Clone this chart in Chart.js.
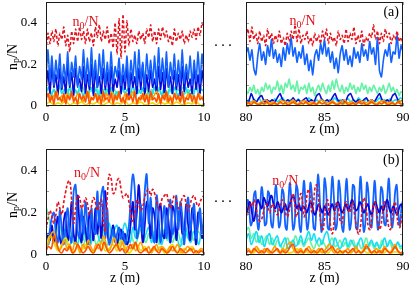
<!DOCTYPE html>
<html>
<head>
<meta charset="utf-8">
<script src="https://cdn.jsdelivr.net/npm/chart.js@4"></script>
<style>
  body { margin: 0; background: #fff; width: 416px; height: 292px; position: relative; overflow: hidden; }
  canvas { position: absolute; }
  .dots { position: absolute; font: 15px "Liberation Serif", serif; letter-spacing: 2px; transform: translate(-50%, -50%); color: #000; }
</style>
</head>
<body>
<canvas id="tl" width="210" height="140" style="left:0;top:0"></canvas>
<canvas id="tr" width="206" height="140" style="left:210px;top:0"></canvas>
<canvas id="bl" width="210" height="152" style="left:0;top:140px"></canvas>
<canvas id="br" width="206" height="152" style="left:210px;top:140px"></canvas>
<div class="dots" style="left:224px;top:45px">···</div>
<div class="dots" style="left:224px;top:201px">···</div>
<script>
// z ranges of the two halves of each row
const zLeft = [0, 10];
const zRight = [80, 90];
const xStep = 5;
const yRange = [0, 0.5];
const yStep = 0.1;

// ---- (a) top row, 0..10 m ----
const tlN0 = [0.27,0.35,0.30,0.36,0.31,0.37,0.29,0.35,0.32,0.38,
  0.29,0.34,0.26,0.36,0.30,0.37,0.31,0.38,0.32,0.36,
  0.30,0.37,0.31,0.35,0.29,0.38,0.33,0.39,0.31,0.36,
  0.32,0.38,0.30,0.35,0.28,0.40,0.25,0.42,0.23,0.44,
  0.26,0.41,0.29,0.37,0.31,0.34,0.30,0.36,0.32,0.35,
  0.30,0.37,0.33,0.39,0.31,0.36,0.30,0.37,0.32,0.38,
  0.33,0.36,0.31,0.34,0.29,0.37,0.31,0.35,0.32,0.36,
  0.30,0.34,0.31,0.36,0.33,0.37,0.32,0.38,0.34,0.40,0.37];
const tlBlue = [0.14,0.27,0.12,0.24,0.10,0.22,0.13,0.25,0.09,0.20,
  0.12,0.26,0.10,0.21,0.14,0.24,0.09,0.19,0.13,0.27,
  0.11,0.23,0.10,0.28,0.12,0.22,0.09,0.25,0.13,0.27,
  0.10,0.21,0.12,0.26,0.11,0.19,0.14,0.23,0.10,0.20,
  0.12,0.24,0.09,0.22,0.13,0.26,0.10,0.27,0.12,0.21,
  0.09,0.25,0.13,0.22,0.11,0.24,0.10,0.28,0.12,0.23,
  0.11,0.26,0.09,0.21,0.13,0.25,0.10,0.22,0.12,0.27,
  0.11,0.20,0.13,0.24,0.10,0.22,0.12,0.26,0.11,0.25,0.14];
const tlNavy = [0.08,0.17,0.06,0.19,0.09,0.15,0.05,0.18,0.08,0.14,
  0.06,0.20,0.09,0.16,0.05,0.18,0.10,0.13,0.07,0.19,
  0.06,0.15,0.08,0.20,0.05,0.17,0.09,0.14,0.06,0.18,
  0.08,0.16,0.05,0.19,0.07,0.13,0.09,0.17,0.06,0.15,
  0.08,0.19,0.05,0.16,0.09,0.14,0.06,0.18,0.08,0.20,
  0.05,0.15,0.07,0.17,0.09,0.13,0.06,0.19,0.08,0.16,
  0.05,0.18,0.09,0.14,0.06,0.17,0.08,0.15,0.05,0.19,
  0.07,0.16,0.09,0.13,0.06,0.18,0.08,0.15,0.06,0.17,0.09];
const tlCyan = [0.06,0.09,0.05,0.08,0.04,0.10,0.06,0.08,0.05,0.09,
  0.04,0.08,0.06,0.10,0.05,0.07,0.04,0.09,0.06,0.08,
  0.05,0.10,0.04,0.08,0.06,0.09,0.05,0.07,0.04,0.09,
  0.06,0.08,0.05,0.10,0.04,0.08,0.06,0.09,0.05,0.07,
  0.04,0.09,0.06,0.08,0.05,0.10,0.04,0.08,0.06,0.09,
  0.05,0.07,0.04,0.09,0.06,0.08,0.05,0.10,0.06,0.08,0.07];
const tlAqua = [0.07,0.09,0.06,0.08,0.05,0.09,0.07,0.06,0.08,0.05,
  0.09,0.07,0.06,0.08,0.09,0.05,0.07,0.08,0.06,0.09,
  0.07,0.05,0.08,0.06,0.09,0.07,0.08,0.05,0.07,0.09,
  0.06,0.08,0.07,0.05,0.09,0.06,0.08,0.07,0.09,0.05,
  0.08,0.06,0.07,0.09,0.05,0.08,0.06,0.09,0.07,0.05,
  0.08,0.07,0.09,0.06,0.08,0.05,0.07,0.09,0.06,0.08,0.07];
const tlOrange = [0.04,0.06,0.03,0.05,0.07,0.03,0.05,0.02,0.06,0.04,
  0.05,0.03,0.06,0.04,0.02,0.05,0.07,0.03,0.04,0.06,
  0.03,0.05,0.02,0.06,0.04,0.07,0.03,0.05,0.04,0.02,
  0.06,0.03,0.05,0.07,0.04,0.02,0.05,0.03,0.06,0.04,
  0.03,0.05,0.07,0.03,0.04,0.06,0.02,0.05,0.03,0.06,
  0.04,0.02,0.05,0.03,0.06,0.04,0.05,0.03,0.06,0.04,0.05];
const tlRedOrange = [0.03,0.06,0.02,0.05,0.01,0.07,0.03,0.04,0.02,0.06,
  0.01,0.05,0.03,0.07,0.02,0.04,0.01,0.06,0.03,0.05,
  0.02,0.07,0.01,0.04,0.03,0.06,0.02,0.05,0.01,0.07,
  0.03,0.04,0.02,0.06,0.01,0.05,0.03,0.07,0.02,0.04,
  0.01,0.06,0.03,0.05,0.02,0.07,0.01,0.04,0.03,0.06,
  0.02,0.05,0.01,0.07,0.03,0.04,0.02,0.06,0.01,0.05,
  0.03,0.07,0.02,0.04,0.01,0.06,0.03,0.05,0.02,0.07,
  0.01,0.04,0.03,0.06,0.02,0.05,0.01,0.06,0.03,0.04,0.02];
const tlYellow = [0.01,0.02,0.005,0.015,0.01,0.025,0.005,0.015,0.01,0.02,
  0.005,0.015,0.01,0.02,0.005,0.01,0.02,0.005,0.015,0.01,
  0.025,0.005,0.015,0.01,0.02,0.005,0.01,0.015,0.005,0.02,
  0.01,0.015,0.005,0.02,0.01,0.005,0.015,0.01,0.02,0.005,0.01];

// ---- (a) top row, 80..90 m ----
const trN0 = [0.33,0.37,0.31,0.38,0.32,0.35,0.30,0.36,0.31,0.34,
  0.29,0.37,0.32,0.35,0.30,0.34,0.31,0.36,0.30,0.33,
  0.29,0.35,0.31,0.36,0.32,0.39,0.31,0.37,0.30,0.34,
  0.32,0.36,0.30,0.33,0.29,0.35,0.31,0.34,0.30,0.36,
  0.32,0.37,0.30,0.35,0.31,0.33,0.29,0.36,0.32,0.34,
  0.30,0.37,0.31,0.35,0.32,0.38,0.30,0.34,0.31,0.36,
  0.29,0.33,0.31,0.35,0.33,0.39,0.32,0.36,0.30,0.35,
  0.31,0.37,0.33,0.35,0.30,0.34,0.32,0.36,0.31,0.33,0.30];
const trBlue = [0.25,0.28,0.22,0.27,0.18,0.15,0.24,0.30,0.22,0.26,
  0.20,0.29,0.24,0.32,0.23,0.27,0.21,0.25,0.19,0.28,
  0.22,0.30,0.25,0.33,0.24,0.28,0.21,0.26,0.23,0.29,
  0.20,0.25,0.17,0.22,0.15,0.24,0.27,0.22,0.30,0.25,
  0.32,0.24,0.28,0.21,0.26,0.18,0.23,0.16,0.25,0.29,
  0.22,0.27,0.20,0.24,0.19,0.28,0.23,0.26,0.21,0.30,
  0.24,0.27,0.22,0.31,0.25,0.28,0.20,0.33,0.17,0.14,
  0.22,0.27,0.24,0.30,0.21,0.26,0.25,0.34,0.23,0.29,0.26];
const trAqua = [0.08,0.06,0.09,0.07,0.10,0.06,0.08,0.05,0.09,0.07,
  0.11,0.08,0.10,0.06,0.09,0.08,0.12,0.07,0.10,0.06,
  0.11,0.09,0.13,0.08,0.10,0.07,0.12,0.06,0.09,0.08,
  0.10,0.06,0.11,0.07,0.09,0.05,0.08,0.10,0.07,0.11,
  0.08,0.06,0.10,0.07,0.12,0.08,0.13,0.09,0.07,0.10,
  0.06,0.09,0.07,0.11,0.08,0.10,0.06,0.09,0.07,0.11,
  0.08,0.10,0.06,0.09,0.07,0.10,0.08,0.06,0.09,0.07,
  0.10,0.06,0.08,0.11,0.07,0.09,0.06,0.08,0.05,0.07,0.06];
const trNavy = [0.03,0.02,0.06,0.03,0.02,0.04,0.05,0.02,0.03,0.02,
  0.03,0.02,0.04,0.06,0.03,0.02,0.03,0.02,0.04,0.02,
  0.03,0.02,0.03,0.04,0.02,0.03,0.02,0.05,0.06,0.03,
  0.02,0.03,0.02,0.04,0.06,0.03,0.02,0.03,0.02,0.05,
  0.06,0.03,0.02,0.03,0.02,0.03,0.04,0.02,0.03,0.02,
  0.04,0.06,0.03,0.02,0.03,0.02,0.05,0.06,0.03,0.02,0.03];
const trCyan = [0.02,0.03,0.015,0.035,0.02,0.04,0.015,0.03,0.02,0.025,
  0.015,0.035,0.02,0.03,0.04,0.02,0.015,0.03,0.025,0.02,
  0.035,0.015,0.03,0.02,0.04,0.025,0.015,0.03,0.02,0.035,
  0.02,0.015,0.03,0.025,0.04,0.02,0.03,0.015,0.025,0.035,
  0.02,0.03,0.015,0.04,0.025,0.02,0.035,0.015,0.03,0.02,
  0.025,0.04,0.02,0.03,0.015,0.035,0.02,0.03,0.025,0.04,0.03];
const trRedOrange = [0.01,0.015,0.005,0.02,0.01,0.005,0.015,0.01,0.02,0.005,
  0.01,0.015,0.005,0.02,0.01,0.015,0.005,0.01,0.02,0.01,
  0.005,0.015,0.01,0.02,0.005,0.01,0.015,0.005,0.02,0.01,
  0.015,0.005,0.01,0.02,0.01,0.005,0.015,0.01,0.02,0.005,
  0.01,0.015,0.005,0.02,0.01,0.015,0.005,0.01,0.02,0.01,
  0.005,0.015,0.01,0.02,0.005,0.01,0.015,0.005,0.02,0.01,0.01];
const trOrange = [0.02,0.015,0.025,0.01,0.02,0.03,0.015,0.02,0.01,0.025,
  0.02,0.015,0.03,0.01,0.02,0.025,0.015,0.02,0.01,0.03,
  0.02,0.015,0.025,0.01,0.02,0.03,0.015,0.02,0.01,0.025,
  0.02,0.015,0.03,0.01,0.02,0.025,0.015,0.02,0.01,0.025,0.02];
const trYellow = [0.01,0.005,0.015,0.01,0.005,0.01,0.015,0.005,0.01,0.015,
  0.005,0.01,0.015,0.01,0.005,0.015,0.01,0.005,0.01,0.015,
  0.01,0.005,0.015,0.01,0.005,0.01,0.015,0.005,0.01,0.015,
  0.005,0.01,0.015,0.01,0.005,0.015,0.01,0.005,0.01,0.015,0.01];

// ---- (b) bottom row, 0..10 m ----
const blN0 = [0.12,0.17,0.21,0.18,0.15,0.19,0.25,0.22,0.19,0.25,
  0.30,0.34,0.35,0.26,0.15,0.22,0.28,0.27,0.22,0.24,
  0.27,0.24,0.19,0.23,0.27,0.25,0.21,0.24,0.26,0.16,
  0.11,0.27,0.38,0.36,0.29,0.30,0.35,0.36,0.31,0.27,
  0.28,0.29,0.25,0.19,0.16,0.20,0.26,0.24,0.21,0.23,
  0.27,0.30,0.31,0.28,0.31,0.29,0.25,0.22,0.24,0.27,
  0.28,0.29,0.25,0.22,0.25,0.28,0.26,0.22,0.23,0.27,
  0.28,0.24,0.21,0.24,0.27,0.28,0.25,0.23,0.25,0.27,0.28];
const blBlue = [0.08,0.05,0.12,0.18,0.20,0.10,0.06,0.21,0.12,0.05,
  0.15,0.22,0.09,0.06,0.30,0.33,0.12,0.08,0.22,0.10,
  0.25,0.14,0.05,0.22,0.12,0.10,0.30,0.14,0.28,0.32,
  0.08,0.22,0.05,0.08,0.12,0.06,0.10,0.13,0.07,0.11,
  0.05,0.09,0.14,0.28,0.38,0.30,0.08,0.12,0.24,0.10,
  0.30,0.38,0.15,0.27,0.10,0.06,0.28,0.18,0.06,0.16,
  0.23,0.08,0.20,0.26,0.10,0.14,0.28,0.12,0.25,0.18,
  0.05,0.20,0.27,0.12,0.18,0.24,0.08,0.14,0.22,0.10,0.19];
const blNavy = [0.05,0.10,0.07,0.14,0.06,0.12,0.18,0.08,0.05,0.16,
  0.20,0.07,0.12,0.25,0.10,0.06,0.28,0.14,0.06,0.18,
  0.12,0.05,0.20,0.15,0.07,0.22,0.10,0.18,0.08,0.24,
  0.30,0.12,0.06,0.09,0.14,0.08,0.05,0.10,0.12,0.06,
  0.10,0.05,0.08,0.16,0.25,0.12,0.20,0.33,0.18,0.06,
  0.14,0.25,0.20,0.08,0.22,0.18,0.06,0.20,0.24,0.10,
  0.08,0.22,0.16,0.06,0.23,0.20,0.07,0.18,0.22,0.10,
  0.12,0.24,0.14,0.07,0.22,0.16,0.05,0.20,0.18,0.08,0.15];
const blCyan = [0.08,0.05,0.10,0.06,0.04,0.09,0.07,0.12,0.06,0.04,
  0.10,0.08,0.05,0.11,0.07,0.13,0.09,0.05,0.12,0.14,
  0.08,0.06,0.13,0.10,0.15,0.09,0.12,0.14,0.07,0.11,
  0.15,0.10,0.06,0.13,0.08,0.12,0.14,0.07,0.10,0.13,
  0.06,0.09,0.12,0.07,0.05,0.11,0.13,0.06,0.09,0.12,
  0.07,0.04,0.10,0.13,0.08,0.06,0.11,0.09,0.05,0.10,0.08];
const blAqua = [0.23,0.18,0.12,0.08,0.11,0.14,0.10,0.06,0.09,0.12,
  0.08,0.05,0.10,0.07,0.04,0.08,0.11,0.06,0.09,0.05,
  0.07,0.10,0.06,0.04,0.08,0.06,0.10,0.07,0.05,0.09,
  0.06,0.08,0.11,0.07,0.05,0.09,0.12,0.08,0.06,0.10,
  0.07,0.11,0.08,0.05,0.09,0.12,0.07,0.10,0.06,0.09,
  0.11,0.07,0.05,0.10,0.08,0.12,0.07,0.09,0.11,0.08,0.10];
const blYellow = [0.04,0.09,0.06,0.02,0.05,0.08,0.03,0.01,0.04,0.02,
  0.05,0.03,0.01,0.04,0.06,0.02,0.03,0.05,0.02,0.07,
  0.04,0.01,0.03,0.05,0.02,0.04,0.01,0.03,0.02,0.04,
  0.01,0.03,0.05,0.02,0.01,0.03,0.02,0.04,0.01,0.02,0.01];
const blOrange = [0.03,0.06,0.10,0.11,0.05,0.02,0.04,0.07,0.03,0.05,
  0.02,0.06,0.04,0.01,0.05,0.03,0.07,0.04,0.02,0.05,
  0.03,0.06,0.09,0.04,0.02,0.05,0.08,0.04,0.03,0.06,
  0.02,0.04,0.03,0.05,0.02,0.04,0.06,0.03,0.02,0.04,
  0.01,0.03,0.05,0.02,0.04,0.03,0.01,0.04,0.02,0.03,
  0.05,0.02,0.01,0.03,0.04,0.02,0.03,0.01,0.02,0.03,0.02];
const blRedOrange = [0.02,0.04,0.03,0.09,0.06,0.02,0.01,0.03,0.02,0.04,
  0.01,0.02,0.05,0.03,0.01,0.02,0.04,0.02,0.01,0.03,
  0.05,0.02,0.06,0.03,0.01,0.02,0.04,0.05,0.02,0.03,
  0.01,0.02,0.05,0.03,0.06,0.02,0.01,0.02,0.03,0.01,
  0.02,0.04,0.02,0.01,0.03,0.02,0.01,0.02,0.04,0.02,
  0.01,0.03,0.02,0.01,0.02,0.03,0.01,0.02,0.01,0.02,0.01];

// ---- (b) bottom row, 80..90 m ----
const brN0 = [0.21,0.19,0.22,0.24,0.23,0.26,0.24,0.20,0.17,0.16,
  0.17,0.20,0.23,0.24,0.22,0.20,0.22,0.24,0.22,0.20,
  0.19,0.21,0.24,0.26,0.25,0.21,0.18,0.19,0.23,0.27,
  0.29,0.24,0.18,0.20,0.26,0.29,0.25,0.18,0.22,0.29,
  0.31,0.26,0.20,0.24,0.32,0.33,0.28,0.20,0.14,0.12,
  0.17,0.24,0.26,0.20,0.13,0.10,0.15,0.23,0.25,0.21,
  0.16,0.15,0.19,0.24,0.25,0.22,0.20,0.23,0.25,0.20,
  0.15,0.11,0.10,0.14,0.22,0.27,0.25,0.19,0.13,0.12,
  0.17,0.23,0.25,0.22,0.16,0.12,0.14,0.20,0.25,0.24,
  0.18,0.13,0.12,0.17,0.23,0.25,0.20,0.14,0.13,0.17,0.20];
const brBlue = [0.20,0.26,0.22,0.14,0.16, 0.28,0.30,0.17,0.12,
  0.22,0.32,0.26,0.14,0.15, 0.30,0.28,0.15,0.13,
  0.24,0.33,0.25,0.13,0.16, 0.31,0.29,0.14,0.12,
  0.25,0.34,0.24,0.12,0.15, 0.33,0.30,0.14,0.11,
  0.26,0.35,0.22,0.12,0.17, 0.34,0.28,0.13,0.12,
  0.27,0.38,0.26,0.11,0.16, 0.36,0.31,0.13,0.12,
  0.25,0.37,0.27,0.12,0.15, 0.35,0.30,0.14,0.11,
  0.24,0.36,0.25,0.12,0.16, 0.33,0.32,0.13,0.12,
  0.26,0.37,0.24,0.11,0.15, 0.34,0.29,0.14,0.13,
  0.25,0.35,0.23,0.12,0.16, 0.32,0.30,0.15,0.14,
  0.27,0.36,0.22,0.13,0.18, 0.30,0.33,0.20,0.14,0.22,0.26];
const brNavy = [0.18,0.22,0.25,0.20,0.16,0.21,0.26,0.24,0.22,0.27,
  0.25,0.23,0.26,0.28,0.24,0.22,0.25,0.23,0.20,0.22,
  0.24,0.21,0.23,0.26,0.28,0.25,0.22,0.24,0.21,0.23,
  0.22,0.20,0.23,0.25,0.22,0.19,0.21,0.24,0.22,0.20,
  0.23,0.21,0.19,0.22,0.24,0.21,0.23,0.25,0.22,0.20,
  0.22,0.24,0.21,0.23,0.26,0.24,0.21,0.22,0.25,0.23,
  0.20,0.22,0.24,0.21,0.19,0.23,0.25,0.22,0.20,0.23,
  0.21,0.24,0.26,0.22,0.20,0.23,0.21,0.19,0.22,0.24,0.22];
const brCyan = [0.07,0.10,0.05,0.08,0.11,0.06,0.09,0.04,0.08,0.10,
  0.05,0.07,0.09,0.04,0.06,0.08,0.03,0.05,0.07,0.04,
  0.06,0.09,0.05,0.08,0.11,0.07,0.10,0.06,0.08,0.05,
  0.09,0.11,0.06,0.04,0.08,0.05,0.03,0.06,0.08,0.04,
  0.07,0.05,0.03,0.06,0.08,0.04,0.03,0.05,0.07,0.04,
  0.06,0.03,0.05,0.08,0.04,0.07,0.05,0.03,0.06,0.04,0.05];
const brAqua = [0.11,0.13,0.08,0.10,0.06,0.09,0.05,0.07,0.09,0.05,
  0.08,0.04,0.07,0.05,0.03,0.06,0.08,0.04,0.06,0.09,
  0.05,0.07,0.04,0.06,0.08,0.05,0.03,0.06,0.04,0.07,
  0.05,0.03,0.06,0.08,0.04,0.05,0.07,0.04,0.06,0.03,
  0.05,0.07,0.04,0.06,0.03,0.05,0.08,0.04,0.06,0.03,
  0.05,0.04,0.07,0.03,0.05,0.06,0.03,0.04,0.06,0.03,0.04];
const brOrange = [0.02,0.03,0.01,0.02,0.04,0.02,0.01,0.03,0.02,0.01,
  0.02,0.04,0.02,0.01,0.03,0.02,0.05,0.06,0.03,0.01,
  0.02,0.03,0.01,0.02,0.04,0.02,0.01,0.02,0.03,0.01,
  0.02,0.04,0.05,0.02,0.01,0.03,0.02,0.01,0.02,0.03,
  0.01,0.02,0.04,0.02,0.01,0.03,0.05,0.02,0.01,0.02,
  0.03,0.01,0.02,0.04,0.02,0.01,0.03,0.05,0.02,0.01,0.02];
const brRedOrange = [0.01,0.02,0.01,0.03,0.02,0.01,0.02,0.01,0.03,0.02,
  0.01,0.02,0.03,0.01,0.02,0.01,0.02,0.04,0.05,0.02,
  0.01,0.02,0.01,0.03,0.02,0.01,0.02,0.01,0.02,0.03,
  0.01,0.02,0.03,0.04,0.02,0.01,0.02,0.01,0.02,0.01,
  0.02,0.03,0.01,0.02,0.01,0.02,0.04,0.03,0.01,0.02,
  0.01,0.02,0.01,0.03,0.02,0.01,0.02,0.04,0.02,0.01,0.01];
const brYellow = [0.01,0.02,0.01,0.03,0.01,0.02,0.01,0.015,0.025,0.01,
  0.02,0.01,0.015,0.03,0.01,0.02,0.01,0.025,0.01,0.015,
  0.02,0.01,0.03,0.015,0.01,0.02,0.01,0.015,0.025,0.01,
  0.02,0.01,0.015,0.01,0.025,0.01,0.02,0.01,0.015,0.01,0.01];

const FONT = '"Liberation Serif", "DejaVu Serif", serif';
const C = {
  n0: '#e3121c', blue: '#1262ff', navy: '#0a0ad8', cyan: '#14e0f4',
  aqua: '#66f2a6', yellow: '#ecdc00', orange: '#ffa200', redorange: '#ff5200'
};

// samples are evenly spread over the z range of the panel
function series(range, vals) {
  const dz = (range[1] - range[0]) / (vals.length - 1);
  return vals.map((v, i) => ({ x: range[0] + i * dz, y: v }));
}

// text with a subscript, centred on (cx, cy)
function drawRich(ctx, parts, cx, cy, size, color) {
  ctx.fillStyle = color;
  ctx.textAlign = 'left';
  ctx.textBaseline = 'alphabetic';
  const fonts = parts.map(p => (p.sub ? Math.round(size * 0.72) : size) + 'px ' + FONT);
  let w = 0;
  parts.forEach((p, i) => { ctx.font = fonts[i]; w += ctx.measureText(p.t).width; });
  let x = cx - w / 2;
  const base = cy + size * 0.33;
  parts.forEach((p, i) => {
    ctx.font = fonts[i];
    ctx.fillText(p.t, x, base + (p.sub ? size * 0.2 : 0));
    x += ctx.measureText(p.t).width;
  });
}

const framePlugin = {
  id: 'frame',
  afterDatasetsDraw(chart) {
    const { ctx, chartArea: a, scales: { x, y } } = chart;
    ctx.save();
    ctx.strokeStyle = '#9a9a9a';
    ctx.lineWidth = 1;
    ctx.beginPath();
    x.ticks.forEach(t => {
      const px = Math.round(x.getPixelForValue(t.value)) + 0.5;
      ctx.moveTo(px, a.bottom); ctx.lineTo(px, a.bottom - 3);
      ctx.moveTo(px, a.top); ctx.lineTo(px, a.top + 3);
    });
    y.ticks.forEach(t => {
      const py = Math.round(y.getPixelForValue(t.value)) + 0.5;
      ctx.moveTo(a.left, py); ctx.lineTo(a.left + 3, py);
      ctx.moveTo(a.right, py); ctx.lineTo(a.right - 3, py);
    });
    ctx.stroke();
    ctx.strokeStyle = '#1a1a1a';
    ctx.strokeRect(Math.round(a.left) + 0.5, Math.round(a.top) + 0.5, Math.round(a.width) - 1, Math.round(a.height) - 1);
    ctx.restore();
  },
  afterDraw(chart, args, opts) {
    const { ctx, chartArea: a, scales: { x, y } } = chart;
    ctx.save();
    (opts.notes || []).forEach(n => {
      const px = x.getPixelForValue(n.z), py = y.getPixelForValue(n.v);
      if (n.rich) drawRich(ctx, n.rich, px, py, 14, n.color);
      else {
        ctx.font = '14px ' + FONT; ctx.fillStyle = n.color;
        ctx.textAlign = 'center'; ctx.textBaseline = 'middle';
        ctx.fillText(n.text, px, py);
      }
    });
    if (opts.ytitle) {
      ctx.translate(12, (a.top + a.bottom) / 2 + 3);
      ctx.rotate(-Math.PI / 2);
      drawRich(ctx, [{ t: 'n' }, { t: 'p', sub: true }, { t: '/N' }], 0, 0, 14, '#000');
    }
    ctx.restore();
  }
};

const n0Label = [{ t: 'n' }, { t: '0', sub: true }, { t: '/N' }];

function makePanel(id, range, sets, o) {
  new Chart(document.getElementById(id), {
    type: 'line',
    data: {
      datasets: sets.map(s => ({
        data: series(range, s.v),
        borderColor: s.c,
        borderWidth: s.w || 1.6,
        borderDash: s.dash || [],
        pointRadius: 0,
        tension: o.tension,
        fill: false
      }))
    },
    options: {
      responsive: false,
      animation: false,
      devicePixelRatio: 1,
      layout: { padding: o.pad },
      plugins: {
        legend: { display: false },
        tooltip: { enabled: false },
        frame: { notes: o.notes, ytitle: o.ytitle }
      },
      scales: {
        x: {
          type: 'linear', min: range[0], max: range[1],
          grid: { display: false, drawTicks: false }, border: { display: false },
          ticks: { stepSize: xStep, padding: 4, color: '#000', font: { family: FONT, size: 13 }, maxRotation: 0, autoSkip: false },
          title: { display: true, text: 'z (m)', color: '#000', font: { family: FONT, size: 14 }, padding: { top: 0, bottom: 2 } },
          afterFit: s => { s.height = 34; s.paddingLeft = 0; s.paddingRight = 0; }
        },
        y: {
          min: yRange[0], max: yRange[1],
          grid: { display: false, drawTicks: false }, border: { display: false },
          ticks: {
            stepSize: yStep, display: o.ylabels, padding: 9, color: '#000',
            font: { family: FONT, size: 13 },
            callback: v => { const r = Math.round(v * 10); return r % 2 ? '' : (r ? (r / 10).toFixed(1) : '0'); }
          },
          afterFit: s => { s.width = o.yw; s.paddingTop = 0; s.paddingBottom = 0; }
        }
      }
    },
    plugins: [framePlugin]
  });
}

const dashN0 = [3, 2];

makePanel('tl', zLeft, [
  { v: tlN0, c: C.n0, dash: dashN0, w: 1.5 },
  { v: tlRedOrange, c: C.redorange },
  { v: tlOrange, c: C.orange },
  { v: tlYellow, c: C.yellow },
  { v: tlBlue, c: C.blue },
  { v: tlNavy, c: C.navy },
  { v: tlCyan, c: C.cyan },
  { v: tlAqua, c: C.aqua }
], { pad: { left: 0, right: 6, top: 2, bottom: 0 }, yw: 46, ylabels: true, ytitle: true, tension: 0.15,
     notes: [{ z: 2.5, v: 0.405, rich: n0Label, color: C.n0 }] });

makePanel('tr', zRight, [
  { v: trN0, c: C.n0, dash: dashN0, w: 1.5 },
  { v: trRedOrange, c: C.redorange },
  { v: trOrange, c: C.orange },
  { v: trYellow, c: C.yellow },
  { v: trNavy, c: C.navy },
  { v: trCyan, c: C.cyan },
  { v: trBlue, c: C.blue },
  { v: trAqua, c: C.aqua }
], { pad: { left: 0, right: 13, top: 2, bottom: 0 }, yw: 36, ylabels: false, ytitle: false, tension: 0.15,
     notes: [{ z: 83.6, v: 0.41, rich: n0Label, color: C.n0 }, { z: 89.25, v: 0.448, text: '(a)', color: '#000' }] });

makePanel('bl', zLeft, [
  { v: blN0, c: C.n0, dash: dashN0, w: 1.6 },
  { v: blRedOrange, c: C.redorange },
  { v: blOrange, c: C.orange },
  { v: blYellow, c: C.yellow },
  { v: blBlue, c: C.blue, w: 1.8 },
  { v: blNavy, c: C.navy, w: 1.8 },
  { v: blCyan, c: C.cyan },
  { v: blAqua, c: C.aqua }
], { pad: { left: 0, right: 6, top: 9, bottom: 3 }, yw: 46, ylabels: true, ytitle: true, tension: 0.4,
     notes: [{ z: 2.6, v: 0.39, rich: n0Label, color: C.n0 }] });

makePanel('br', zRight, [
  { v: brN0, c: C.n0, dash: dashN0, w: 1.6 },
  { v: brRedOrange, c: C.redorange },
  { v: brOrange, c: C.orange },
  { v: brYellow, c: C.yellow },
  { v: brNavy, c: C.navy, w: 1.8 },
  { v: brBlue, c: C.blue, w: 1.8 },
  { v: brCyan, c: C.cyan },
  { v: brAqua, c: C.aqua }
], { pad: { left: 0, right: 13, top: 9, bottom: 3 }, yw: 36, ylabels: false, ytitle: false, tension: 0.4,
     notes: [{ z: 82.5, v: 0.35, rich: n0Label, color: C.n0 }, { z: 89.25, v: 0.448, text: '(b)', color: '#000' }] });
</script>
</body>
</html>
